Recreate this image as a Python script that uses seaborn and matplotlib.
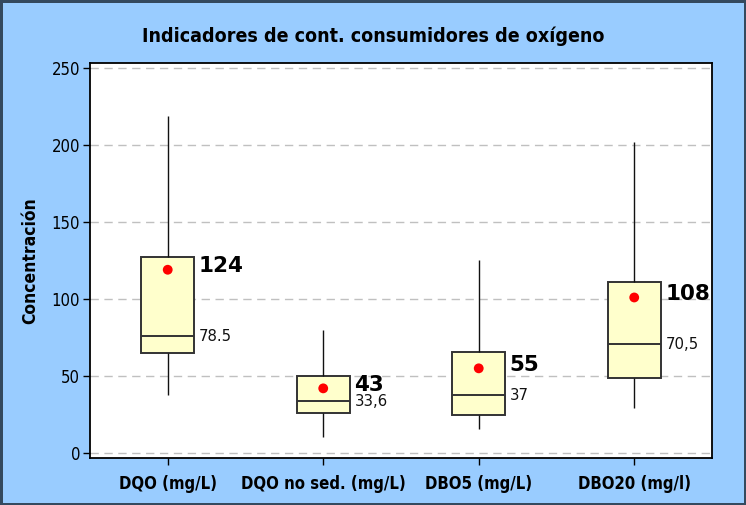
import numpy as np
import pandas as pd
import matplotlib
matplotlib.use("Agg")
import matplotlib.pyplot as plt
import seaborn as sns

# ---- data ----
categories = ["DQO (mg/L)", "DQO no sed. (mg/L)", "DBO5 (mg/L)", "DBO20 (mg/l)"]
whisker_low = [38, 10.5, 15.5, 29]
q1 = [65, 26, 25, 49]
median = [76, 34, 38, 71]
q3 = [127, 50, 65.5, 111]
whisker_high = [219, 80, 125.5, 202]
means = [119, 42, 55, 101]
mean_labels = ["124", "43", "55", "108"]
median_labels = ["78.5", "33,6", "37", "70,5"]
y_ticks = [0, 50, 100, 150, 200, 250]

# five-number summaries as rows -> seaborn computes identical box stats
rows = []
for c, a, b, m, d, e in zip(categories, whisker_low, q1, median, q3, whisker_high):
    for v in (a, b, m, d, e):
        rows.append({"cat": c, "val": v})
df = pd.DataFrame(rows)
df_mean = pd.DataFrame({"cat": categories, "val": means})

sns.set_theme(style="white")
plt.rcParams["font.family"] = ["DejaVu Sans"]
plt.rcParams["text.color"] = "black"
plt.rcParams["xtick.color"] = "black"
plt.rcParams["ytick.color"] = "black"
plt.rcParams["axes.labelcolor"] = "black"

fig = plt.figure(figsize=(7.46, 5.05), dpi=100, facecolor="#99CCFF",
                 edgecolor="#34495e", linewidth=2.5)
ax = fig.add_axes([0.1206, 0.0931, 0.8338, 0.7821])
ax.set_facecolor("white")

sns.boxplot(data=df, x="cat", y="val", order=categories, whis=(0, 100), width=0.34,
            color="#FFFFCC", saturation=1, linewidth=1.1, linecolor="#333333",
            showfliers=False, ax=ax,
            boxprops=dict(facecolor="#FFFFCC", edgecolor="#333333", linewidth=1.4),
            medianprops=dict(color="#333333", linewidth=1.4),
            whiskerprops=dict(color="#111111", linewidth=1.0),
            capprops=dict(linewidth=0))
sns.scatterplot(data=df_mean, x="cat", y="val", color="#FF0000", s=50,
                edgecolor="none", ax=ax, zorder=5)

for i in range(len(categories)):
    ax.annotate(mean_labels[i], xy=(i + 0.2, means[i]), xytext=(0, 2.5),
                textcoords="offset points", fontsize=15.5, fontweight="bold",
                ha="left", va="center", color="black")
    ax.annotate(median_labels[i], xy=(i + 0.2, median[i]), xytext=(0, -0.5),
                textcoords="offset points", fontsize=10.7,
                ha="left", va="center", color="#111111")

ax.set_xlim(-0.5, 3.5)
ax.set_ylim(-3.2, 253.2)
ax.set_yticks(y_ticks)
ax.set_yticklabels([str(t) for t in y_ticks], fontsize=12, fontstretch="condensed")
ax.set_xticks(range(len(categories)))
ax.set_xticklabels(categories, fontsize=12, fontweight="bold", fontstretch="condensed")
ax.yaxis.grid(True, linestyle=(0, (6, 4)), color="#C0C0C0", linewidth=1)
ax.xaxis.grid(False)
ax.set_axisbelow(True)
ax.tick_params(axis="both", which="both", direction="out", length=5, width=1,
               color="black", left=True, bottom=True)
ax.tick_params(axis="x", pad=7)
ax.tick_params(axis="y", pad=2)
for s in ax.spines.values():
    s.set_color("black")
    s.set_linewidth(1.3)
ax.set_xlabel("")
ax.set_ylabel("Concentración", fontsize=12.5, fontweight="bold",
              fontstretch="condensed")
ax.yaxis.set_label_coords(-0.082, 0.5)

fig.text(0.5, 0.928, "Indicadores de cont. consumidores de oxígeno", ha="center",
         va="center", fontsize=14, fontweight="bold", fontstretch="condensed")

fig.savefig("out.png", dpi=100, facecolor=fig.get_facecolor(), edgecolor=fig.get_edgecolor())
